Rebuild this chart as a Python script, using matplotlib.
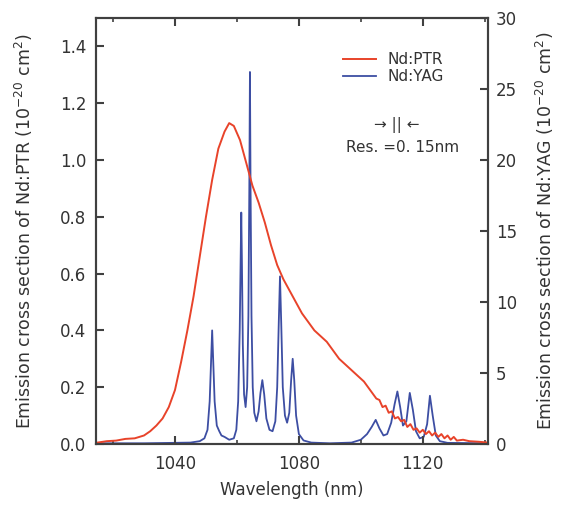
import matplotlib.pyplot as plt
from matplotlib.ticker import MultipleLocator

plt.rcParams["font.family"] = ["DejaVu Sans"]

# Nd:PTR emission cross section (left axis, 1e-20 cm^2)
ptr_wl = [1015, 1018, 1021, 1024, 1027, 1030, 1032, 1034, 1036, 1038, 1040, 1042, 1044,
          1046, 1048, 1050, 1052, 1054, 1056, 1057.5, 1059, 1061, 1063, 1065, 1067, 1069,
          1071, 1073, 1075, 1077, 1079, 1081, 1083, 1085, 1087, 1089, 1091, 1093, 1095,
          1097, 1099, 1101, 1103, 1105, 1106, 1107, 1108, 1109, 1110, 1111, 1112, 1113,
          1114, 1115, 1116, 1117, 1118, 1119, 1120, 1121, 1122, 1123, 1124, 1125, 1126,
          1127, 1128, 1129, 1130, 1131, 1133, 1135, 1138, 1141]
ptr_val = [0.005, 0.01, 0.012, 0.018, 0.02, 0.03, 0.045, 0.065, 0.09, 0.13, 0.19, 0.29, 0.40,
           0.52, 0.66, 0.80, 0.93, 1.04, 1.10, 1.13, 1.12, 1.07, 0.99, 0.91, 0.85, 0.78,
           0.70, 0.63, 0.58, 0.54, 0.50, 0.46, 0.43, 0.40, 0.38, 0.36, 0.33, 0.30, 0.28,
           0.26, 0.24, 0.22, 0.19, 0.16, 0.155, 0.13, 0.135, 0.11, 0.115, 0.09, 0.095, 0.08,
           0.085, 0.06, 0.07, 0.05, 0.055, 0.04, 0.05, 0.035, 0.045, 0.03, 0.04, 0.025, 0.035,
           0.02, 0.03, 0.015, 0.025, 0.012, 0.015, 0.01, 0.008, 0.005]

# Nd:YAG emission cross section (right axis, 1e-20 cm^2)
yag_wl = [1015, 1030, 1045, 1048, 1049.5, 1050.5, 1051.2, 1051.6, 1052, 1052.4, 1052.8,
          1053.5, 1054.3, 1055, 1056, 1057.5, 1059, 1059.8, 1060.4, 1060.9, 1061.2, 1061.4,
          1061.6, 1061.9, 1062.3, 1062.8, 1063.3, 1063.7, 1064.0, 1064.2, 1064.4, 1064.7,
          1065.1, 1065.6, 1066.3, 1067.0, 1067.6, 1068.2, 1068.8, 1069.5, 1070.5, 1071.5,
          1072.4, 1073.0, 1073.5, 1073.9, 1074.3, 1074.8, 1075.5, 1076.2, 1076.9, 1077.5,
          1078, 1078.5, 1079.1, 1080, 1081.5, 1084, 1090, 1097, 1100, 1102, 1103.5, 1104.8,
          1106, 1107.3, 1108.5, 1109.8, 1110.9, 1111.8, 1112.7, 1113.6, 1114.7, 1115.8,
          1116.8, 1117.8, 1119, 1120.3, 1121.4, 1122.3, 1123.2, 1124.2, 1125.5, 1128, 1141]
yag_val = [0.05, 0.05, 0.1, 0.2, 0.4, 1.0, 3.0, 5.5, 8.0, 5.5, 3.0,
           1.3, 0.9, 0.6, 0.5, 0.3, 0.4, 1.0, 3.0, 8.0, 13.0, 16.3,
           13.0, 7.0, 3.5, 2.6, 4.0, 9.0, 18.0, 26.2, 18.0, 9.0,
           4.0, 2.2, 1.6, 2.3, 3.6, 4.5, 3.5, 1.8, 1.0, 0.9,
           1.6, 4.0, 8.5, 11.8, 8.5, 4.0, 2.0, 1.5, 2.2, 4.5,
           6.0, 4.5, 2.0, 0.7, 0.25, 0.1, 0.05, 0.1, 0.3, 0.7, 1.2, 1.7,
           1.1, 0.6, 0.7, 1.5, 2.8, 3.7, 2.6, 1.3, 1.6, 3.6,
           2.4, 0.9, 0.4, 0.5, 1.4, 3.4, 2.0, 0.6, 0.2, 0.08, 0.05]

x_ticks = [1040, 1080, 1120]
left_ticks = [0.0, 0.2, 0.4, 0.6, 0.8, 1.0, 1.2, 1.4]
right_ticks = [0, 5, 10, 15, 20, 25, 30]

red = "#e8432a"
blue = "#3d4ea3"
axis_col = "#404040"
text_col = "#333333"

fig = plt.figure(figsize=(5.63, 5.12), dpi=100)
ax = fig.add_axes([0.1705, 0.1328, 0.696, 0.832])
ax2 = ax.twinx()

ax2.plot(yag_wl, yag_val, color=blue, lw=1.3, label="Nd:YAG")
ax.plot(ptr_wl, ptr_val, color=red, lw=1.4, label="Nd:PTR")
ax.set_zorder(ax2.get_zorder() + 1)
ax.patch.set_visible(False)

ax.set_xlim(1014.5, 1141)
ax.set_ylim(0, 1.5)
ax2.set_ylim(0, 30)
ax.set_xticks(x_ticks)
ax.xaxis.set_minor_locator(MultipleLocator(20))
ax.set_yticks(left_ticks)
ax.set_yticklabels([f"{v:.1f}" for v in left_ticks])
ax2.set_yticks(right_ticks)

for a in (ax, ax2):
    for s in a.spines.values():
        s.set_color(axis_col)
        s.set_linewidth(1.5)
ax.tick_params(axis="x", which="both", direction="in", top=True, colors=axis_col,
               labelcolor=text_col, labelsize=12, pad=8)
ax.tick_params(axis="x", which="major", length=6, width=1.5)
ax.tick_params(axis="x", which="minor", length=3, width=1.2)
ax.tick_params(axis="y", direction="in", length=6, width=1.5, colors=axis_col,
               labelcolor=text_col, labelsize=12, pad=7)
ax2.tick_params(axis="y", direction="in", length=6, width=1.5, colors=axis_col,
                labelcolor=text_col, labelsize=12, pad=6)

ax.set_xlabel("Wavelength (nm)", fontsize=12, color=text_col, labelpad=6)
ax.set_ylabel("Emission cross section of Nd:PTR (10$^{-20}$ cm$^{2}$)", fontsize=12.5,
              color=text_col, labelpad=18)
ax2.set_ylabel("Emission cross section of Nd:YAG (10$^{-20}$ cm$^{2}$)", fontsize=12.5,
               color=text_col, labelpad=12)

h1, l1 = ax.get_legend_handles_labels()
h2, l2 = ax2.get_legend_handles_labels()
leg = ax.legend(h1 + h2, l1 + l2, loc="upper left", bbox_to_anchor=(0.63, 0.92),
                frameon=False, fontsize=11, handlelength=2.2, labelspacing=0.15,
                handletextpad=0.7, borderpad=0, borderaxespad=0)
for t in leg.get_texts():
    t.set_color(text_col)

ax.text(0.768, 0.749, "\u2192 || \u2190", transform=ax.transAxes, ha="center", va="center",
        fontsize=11, color=text_col)
ax.text(0.783, 0.697, "Res. =0. 15nm", transform=ax.transAxes, ha="center", va="center",
        fontsize=11, color=text_col)

fig.savefig("out.png", dpi=100)
